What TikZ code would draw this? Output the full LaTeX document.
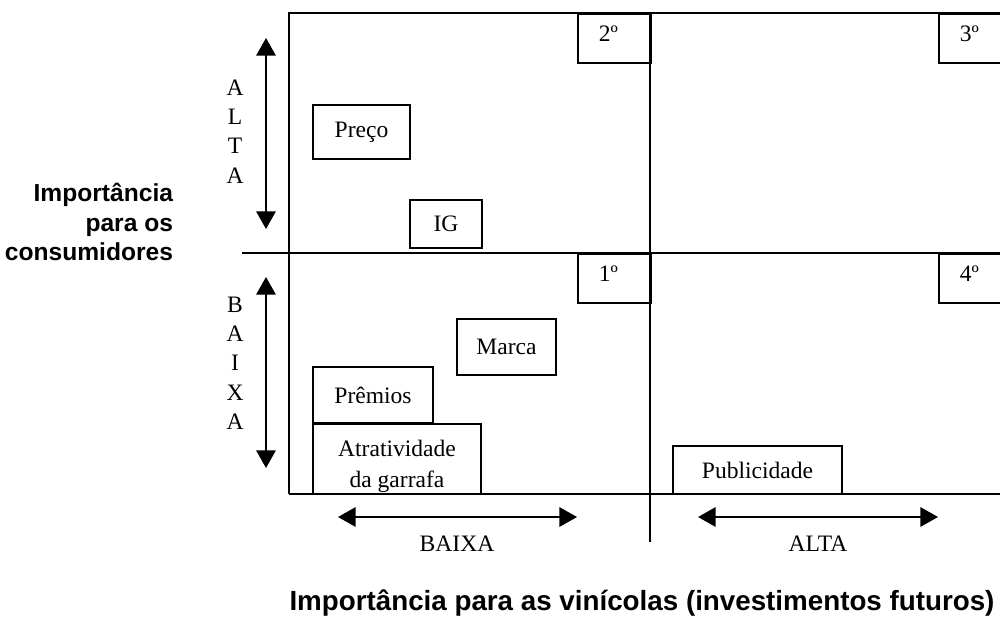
\documentclass[tikz,border=0pt]{standalone}
\usepackage{fontspec}
\setmainfont{Liberation Serif}
\newfontfamily\headfont{Liberation Sans}
\usetikzlibrary{arrows.meta,positioning}

\begin{document}
\begin{tikzpicture}[
    x=0.02cm, y=-0.02cm,
    line width=1.1pt,
    box/.style={draw, rectangle, inner sep=0pt, font=\fontsize{13.4}{16.7}\selectfont},
    numbox/.style={draw, rectangle, inner xsep=0.42cm, inner ysep=0pt, text width=0.62cm,
        text height=0.56cm, text depth=0.42cm, align=left, font=\fontsize{13.4}{16.7}\selectfont},
    letters/.style={align=center, font=\fontsize{13.4}{16.7}\selectfont},
    axis/.style={font=\fontsize{13.4}{16.7}\selectfont},
    headline/.style={inner sep=0pt, font=\headfont\bfseries\fontsize{#1}{17pt}\selectfont},
    arrow/.style={arrows={Triangle[length=10pt,width=11pt]-Triangle[length=10pt,width=11pt]}}
]
\useasboundingbox (0,0) rectangle (1000,625);

% quadrant frame
\draw (1000,13) -- (289,13) -- (289,494);
\draw (242,253) -- (1000,253);
\draw (650,13) -- (650,542);

% factors
\node[box, minimum width=1.94cm, minimum height=1.08cm] (preco) at (361.5,132) {Preço};
\node[box, minimum width=1.44cm, minimum height=0.96cm] (ig) at (446,224) {IG};
\node[box, minimum width=1.98cm, minimum height=1.12cm] (marca) at (506.5,347) {Marca};
\node[box, minimum width=2.4cm, minimum height=1.12cm] (premios) at (373,395) {Prêmios};
\begin{scope}
    \clip (289,13) rectangle (1000,494);
    \node[box, align=center, anchor=north, minimum width=3.36cm, inner ysep=9pt,
        font=\fontsize{13.4}{17.6}\selectfont] (garrafa) at (397,423) {Atratividade\\da garrafa};
\end{scope}
\node[box, minimum width=3.38cm, minimum height=0.96cm] (publ) at (757.5,470) {Publicidade};
\draw (289,494) -- (1000,494);

% quadrant numbers
\node[numbox, anchor=north west] (q2) at (577,13) {2º};
\node[numbox, anchor=north west] (q3) at (938,13) {3º};
\node[numbox, anchor=north west] (q1) at (577,253) {1º};
\node[numbox, anchor=north west] (q4) at (938,253) {4º};

% vertical scale
\node[letters] (alta) at (235,131.5) {A\\L\\T\\A};
\node[letters] (baixa) at (235,363) {B\\A\\I\\X\\A};
\coordinate (altaTop) at (266,38);
\coordinate (altaBot) at (266,229);
\coordinate (baixaTop) at (266,277);
\coordinate (baixaBot) at (266,468);
\draw[arrow] (altaTop) -- (altaBot);
\draw[arrow] (baixaTop) -- (baixaBot);

% horizontal scale
\coordinate (lowL) at (338,517);
\coordinate (lowR) at (577,517);
\coordinate (highL) at (698,517);
\coordinate (highR) at (938,517);
\draw[arrow] (lowL) -- (lowR);
\draw[arrow] (highL) -- (highR);
\node[axis] (baixaLbl) at (457,544) {BAIXA};
\node[axis] (altaLbl) at (818,544) {ALTA};

% axis titles
\node[headline=14, align=right, anchor=east] (consum) at (174,222) {Importância\\para os\\consumidores};
\node[headline=15.8] (vinic) at (642,603) {Importância para as vinícolas (investimentos futuros)};
\end{tikzpicture}
\end{document}
